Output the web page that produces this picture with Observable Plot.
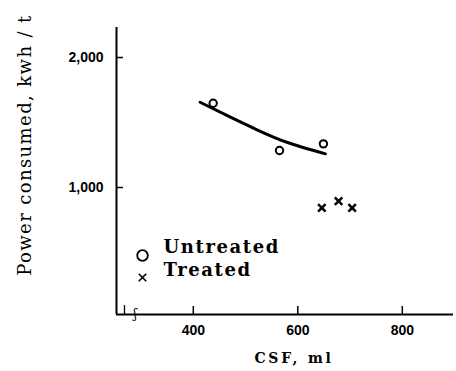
<!DOCTYPE html>
<html>
<head>
<meta charset="utf-8">
<script src="https://cdn.jsdelivr.net/npm/d3@7"></script>
<script src="https://cdn.jsdelivr.net/npm/@observablehq/plot@0.6"></script>
<style>
  html, body { margin: 0; padding: 0; background: #fff; }
  #chart svg { display: block; }
</style>
</head>
<body>
<div id="chart"></div>
<script>
// ---- data ----
const untreatedCSF = [438, 565, 649];
const untreatedPower = [1648, 1285, 1336];
const treatedCSF = [646, 678, 704];
const treatedPower = [844, 895, 844];
const fitCSF = [413, 471, 522, 579, 653];
const fitPower = [1656, 1541, 1444, 1348, 1259];
const xTicks = [400, 600, 800];
const yTicks = [1000, 2000];
const xDomain = [253, 898];
const yDomain = [23, 2231];
const seriesNames = ["Untreated", "Treated"];
const xLabel = "CSF, ml";
const yLabel = "Power consumed, kwh / t";

const untreated = untreatedCSF.map((x, i) => ({x, y: untreatedPower[i]}));
const treated = treatedCSF.map((x, i) => ({x, y: treatedPower[i]}));
const fit = fitCSF.map((x, i) => ({x, y: fitPower[i]}));

const serif = "'DejaVu Serif', serif";
const sans = "'Liberation Sans', Arial, sans-serif";

const W = 456, H = 371, mL = 116, mR = 3, mT = 27, mB = 57;
const frameW = W - mL - mR, frameH = H - mT - mB;

const chart = Plot.plot({
  width: W,
  height: H,
  marginLeft: mL,
  marginRight: mR,
  marginTop: mT,
  marginBottom: mB,
  style: {background: "#fff", color: "#000", fontFamily: sans},
  x: {domain: xDomain, ticks: xTicks},
  y: {domain: yDomain, ticks: yTicks},
  marks: [
    // axis lines
    Plot.ruleX([xDomain[0]], {stroke: "#000", strokeWidth: 2}),
    Plot.ruleY([yDomain[0]], {stroke: "#000", strokeWidth: 2}),
    // inward ticks
    Plot.ruleX(xTicks, {x: d => d, insetTop: frameH - 8, stroke: "#000", strokeWidth: 1.5}),
    Plot.ruleY(yTicks, {y: d => d, insetRight: frameW - 7, stroke: "#000", strokeWidth: 1.5}),
    // axis break
    Plot.ruleX([xDomain[0]], {dx: 8, insetTop: frameH - 9, stroke: "#000", strokeWidth: 1.3}),
    Plot.text(["ʃ"], {frameAnchor: "bottom-left", dx: 17, dy: 0, fontSize: 12, fontFamily: serif, lineAnchor: "middle"}),
    // tick labels
    Plot.axisX({ticks: xTicks, tickSize: 0, tickPadding: 11, label: null,
      fontSize: 14, fontWeight: "bold", fontFamily: sans}),
    Plot.axisY({ticks: yTicks, tickSize: 0, tickPadding: 13, label: null,
      tickFormat: d3.format(","), fontSize: 14, fontWeight: "bold", fontFamily: sans}),
    // axis titles
    Plot.text([xLabel], {frameAnchor: "bottom", dx: 9, dy: 44, fontSize: 14, fontWeight: "bold",
      fontFamily: serif, lineAnchor: "middle"}),
    Plot.text([yLabel], {frameAnchor: "left", rotate: -90, dx: -91, dy: -26, fontSize: 18,
      fontFamily: serif, lineAnchor: "middle", textAnchor: "middle"}),
    // fitted curve
    Plot.line(fit, {x: "x", y: "y", curve: "natural", stroke: "#000", strokeWidth: 3}),
    // data points
    Plot.dot(untreated, {x: "x", y: "y", r: 3.7, stroke: "#000", strokeWidth: 2, fill: "#fff"}),
    Plot.dot(treated, {x: "x", y: "y", r: 3.5, symbol: "times", stroke: "#000", strokeWidth: 2.5}),
    // legend
    Plot.dot([seriesNames[0]], {frameAnchor: "bottom-left", dx: 26, dy: -59, r: 5.3, stroke: "#000", strokeWidth: 1.8}),
    Plot.dot([seriesNames[1]], {frameAnchor: "bottom-left", dx: 26, dy: -37, r: 3.5, symbol: "times", stroke: "#000", strokeWidth: 1.6}),
    Plot.text([seriesNames[0]], {frameAnchor: "bottom-left", dx: 47, dy: -67.5, text: d => d, textAnchor: "start",
      lineAnchor: "middle", fontSize: 18, fontWeight: "bold", fontFamily: serif}),
    Plot.text([seriesNames[1]], {frameAnchor: "bottom-left", dx: 47, dy: -44, text: d => d, textAnchor: "start",
      lineAnchor: "middle", fontSize: 18, fontWeight: "bold", fontFamily: serif})
  ]
});
// letter spacing of the typewriter-style texts
const spacing = new Map([[yLabel, "1.4px"], [xLabel, "2.8px"], [seriesNames[0], "1.6px"], [seriesNames[1], "1.6px"]]);
d3.select(chart).selectAll("text").each(function () {
  const s = spacing.get(this.textContent);
  if (s) this.style.letterSpacing = s;
});
document.getElementById("chart").append(chart);
</script>
</body>
</html>
